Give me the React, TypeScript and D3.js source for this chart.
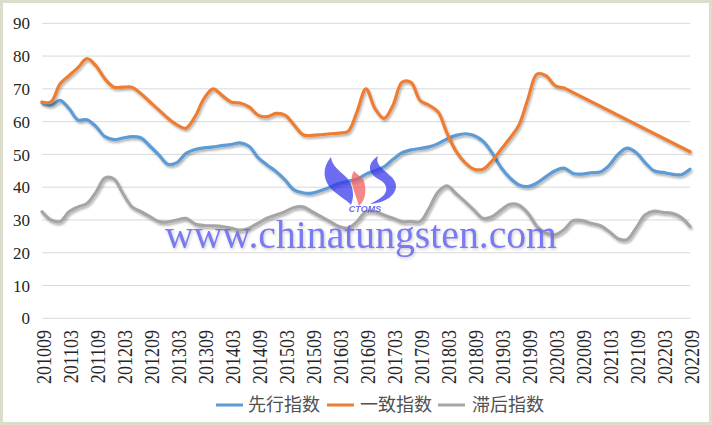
import React from "react";
import * as d3 from "d3";

// ---------- DATA ----------
const startYear = 2010;
const startMonth = 9;
const monthCount = 145; // 201009 .. 202209

const tickLabels = [
  "201009", "201103", "201109", "201203", "201209", "201303", "201309",
  "201403", "201409", "201503", "201509", "201603", "201609", "201703",
  "201709", "201803", "201809", "201903", "201909", "202003", "202009",
  "202103", "202109", "202203", "202209",
];

const yTicks = [0, 10, 20, 30, 40, 50, 60, 70, 80, 90];

// values sampled every two months, starting 201009
const leading = [
  65.8, 65, 66.5, 64, 60.5, 60.6, 58.5, 55.4, 54.5, 55, 55.4, 55, 52.5, 49.8,
  47, 47.5, 50.3, 51.5, 52, 52.3, 52.7, 53, 53.5, 52.5, 49, 46.8, 44.8, 42.2,
  39.2, 38.3, 38.2, 39, 40, 41.1, 41.8, 42.4, 44, 45, 46.2, 48.5, 50.5, 51.4,
  51.8, 52.3, 53.3, 54.7, 55.8, 56.3, 55.8, 54, 50.5, 46, 42.8, 40.7, 40.2,
  41.3, 43.2, 45, 45.8, 44.2, 44, 44.4, 44.6, 46.6, 50, 51.9, 50.6, 47.5, 45,
  44.5, 44, 43.8, 45.5,
];

const coincident: (number | null)[] = [
  66, 66, 71.5, 74, 76.5, 79.2, 77, 73, 70.5, 70.5, 70.5, 68.5, 66, 63.5, 61,
  59, 58, 61.5, 67, 70, 68, 66, 65.7, 64.5, 62, 61.5, 62.5, 62, 59, 56, 55.8,
  56, 56.3, 56.5, 57, 63, 70, 64, 61, 65, 72, 72, 66.5, 65, 63, 56.5, 51, 47.5,
  45.5, 45.5, 48, 51.5, 55, 59, 67, 74.5, 74, 71, 70.3,
  null, null, null, null, null, null, null, null, null, null, null, null, null,
  50.8,
];

const lagging = [
  32.5, 30, 29.5, 32.5, 34, 35, 38.5, 42.8, 42.5, 38, 34, 32.5, 31, 29.5, 29.4,
  30, 30.5, 28.8, 28.3, 28.2, 28, 27.5, 26.9, 27.5, 29, 30.5, 31.5, 32.5, 33.8,
  34, 32.5, 31, 29.5, 28, 27.5, 29.5, 32.5, 32.5, 31.5, 30.5, 29.5, 29.5, 29.5,
  33.5, 38.5, 40.4, 38, 35.6, 33, 30.5, 31, 33, 34.8, 34.5, 32, 28, 26, 25.5,
  27, 29.8, 29.8, 29, 28.3, 26.5, 24.3, 24, 27.5, 31.5, 32.7, 32.3, 32, 30.8,
  28,
];

const seriesNames = ["先行指数", "一致指数", "滞后指数"];
const seriesColors = ["#5B9BD5", "#ED7D31", "#A5A5A5"];
const seriesValues = [leading, coincident, lagging];

// ---------- LAYOUT ----------
const W = 712;
const H = 425;
const plot = { left: 42, right: 690, top: 23.3, bottom: 318.3 };

const months = d3.range(monthCount).map((i) => {
  const t = startYear * 12 + (startMonth - 1) + i;
  const yy = Math.floor(t / 12);
  const m = (t % 12) + 1;
  return `${yy}${m < 10 ? "0" + m : m}`;
});
const sampleMonths = months.filter((_, i) => i % 2 === 0);

const x = d3.scalePoint<string>().domain(months).range([plot.left, plot.right]);
const y = d3.scaleLinear().domain([0, 90]).range([plot.bottom, plot.top]);

type Pt = [number, number];

function seriesPath(values: (number | null)[]): string {
  // runs of defined points are smoothed; gaps are bridged by straight lines
  const runs: Pt[][] = [];
  let cur: Pt[] = [];
  values.forEach((v, i) => {
    if (v == null) {
      if (cur.length) runs.push(cur);
      cur = [];
    } else {
      cur.push([x(sampleMonths[i]) as number, y(v)]);
    }
  });
  if (cur.length) runs.push(cur);
  const smooth = d3.line<Pt>().curve(d3.curveCatmullRom.alpha(0.5));
  const straight = d3.line<Pt>();
  let d = "";
  runs.forEach((r, k) => {
    d += smooth(r) || "";
    if (k < runs.length - 1) {
      const a = r[r.length - 1];
      const b = runs[k + 1][0];
      d += straight([a, b]) || "";
    }
  });
  return d;
}

const legendItems = [
  { lx: 216, tx: 248 },
  { lx: 327, tx: 360 },
  { lx: 438, tx: 472 },
];

export default function App() {
  return (
    <svg
      width={W}
      height={H}
      style={{ position: "absolute", left: 0, top: 0, background: "#fff" }}
    >
      <defs>
        <filter id="shadow" x="-5%" y="-5%" width="110%" height="120%">
          <feDropShadow dx="1.2" dy="2" stdDeviation="1.1" floodColor="#000" floodOpacity="0.3" />
        </filter>
        <filter id="wmShadow" x="-5%" y="-20%" width="110%" height="140%">
          <feDropShadow dx="1" dy="1.5" stdDeviation="1.5" floodColor="#888" floodOpacity="0.5" />
        </filter>
      </defs>
      <rect x={1.5} y={1.5} width={W - 3} height={H - 3} fill="#fff" stroke="#dcdccb" strokeWidth={3} />

      {/* gridlines */}
      {yTicks.map((t) => (
        <line key={t} x1={plot.left} x2={plot.right} y1={y(t)} y2={y(t)} stroke="#d9d9d9" strokeWidth={1} />
      ))}

      {/* y labels */}
      {yTicks.map((t) => (
        <text
          key={t}
          x={30}
          y={y(t)}
          dy="0.36em"
          textAnchor="end"
          fontFamily="'Liberation Serif', serif"
          fontSize={17}
          fill="#262626"
        >
          {t}
        </text>
      ))}

      {/* x labels */}
      {tickLabels.map((lab) => (
        <text
          key={lab}
          transform={`translate(${(x(lab) as number) + 1.5},330) rotate(-90) scale(1,1.15)`}
          dy="0.35em"
          textAnchor="end"
          fontFamily="'Liberation Serif', serif"
          fontSize={18}
          fill="#262626"
        >
          {lab}
        </text>
      ))}

      {/* series */}
      {seriesValues.map((vals, i) => (
        <path
          key={i}
          d={seriesPath(vals)}
          fill="none"
          stroke={seriesColors[i]}
          strokeWidth={3.2}
          strokeLinejoin="round"
          strokeLinecap="round"
          filter="url(#shadow)"
        />
      ))}

      {/* watermark logo */}
      <g opacity={0.72}>
        <path
          d="M331,157 C320,170 324,184 336,193 C342,198 348,201 351,205 C355,195 353,184 346,177 C339,170 332,166 331,157 Z"
          fill="#3434ee"
        />
        <path
          d="M378,156 C366,164 368,174 380,180 C387,184 388,190 384,195 C380,199 375,201 370,204 C384,203 396,196 396,186 C396,176 382,172 378,163 C377,161 377,159 378,156 Z"
          fill="#3434ee"
        />
        <path
          d="M354,171 C348,180 355,192 359,206 C367,198 366,188 364,181 C362,176 357,175 354,171 Z"
          fill="#f25a5a"
        />
        <text x={365} y={212} textAnchor="middle" fontFamily="'Liberation Sans', sans-serif" fontStyle="italic" fontWeight="bold" fontSize={9} fill="#3434ee">
          CTOMS
        </text>
      </g>
      <text
        x={165}
        y={248}
        textLength={392}
        lengthAdjust="spacingAndGlyphs"
        fontFamily="'Liberation Serif', serif"
        fontSize={39}
        fill="#6c6cf0"
        opacity={0.9}
        filter="url(#wmShadow)"
      >
        www.chinatungsten.com
      </text>

      {/* legend */}
      {legendItems.map((it, i) => (
        <g key={i}>
          <line x1={it.lx} x2={it.lx + 27} y1={405} y2={405} stroke={seriesColors[i]} strokeWidth={3} />
          <text
            x={it.tx}
            y={405}
            dy="0.36em"
            fontFamily="'Noto Sans CJK SC', sans-serif"
            fontSize={18}
            fill="#505050"
          >
            {seriesNames[i]}
          </text>
        </g>
      ))}
    </svg>
  );
}
